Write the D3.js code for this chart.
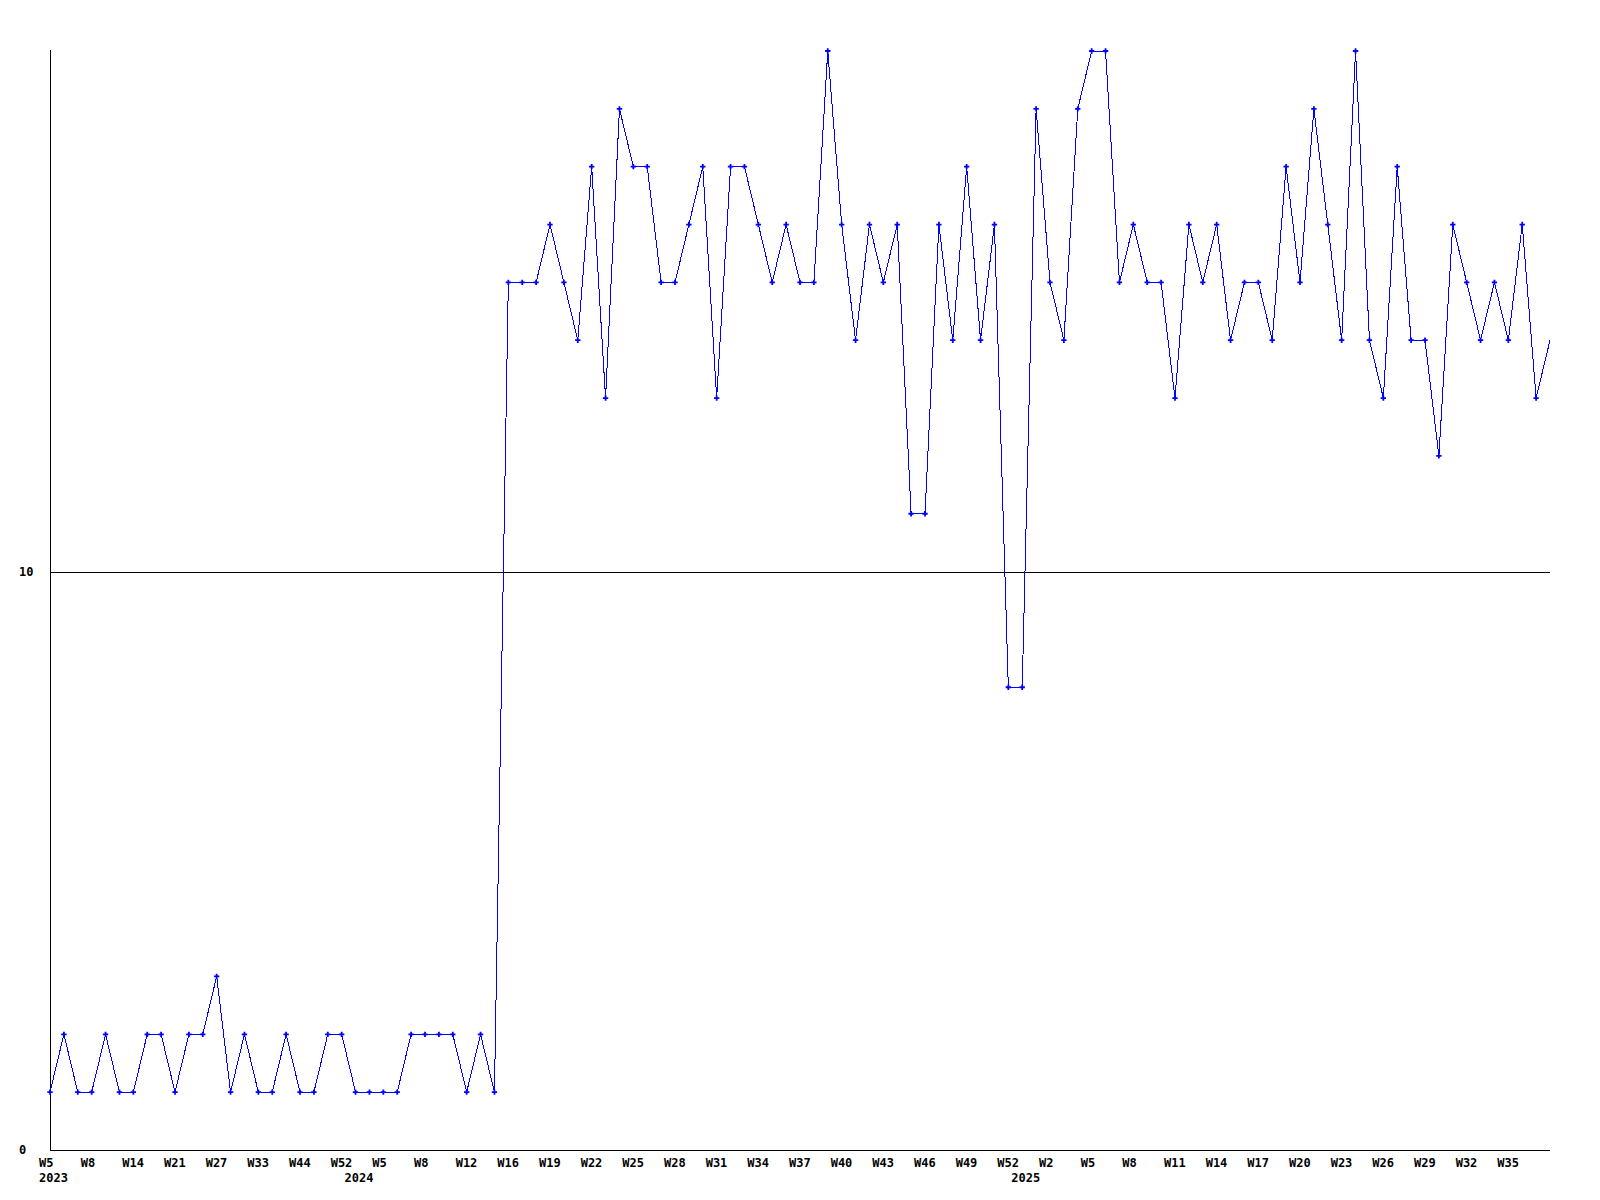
<!DOCTYPE html>
<html>
<head>
<meta charset="utf-8">
<style>
body { margin: 0; background: #fff; }
svg { font: bold 12px "DejaVu Sans Mono", "Liberation Mono", monospace; }
</style>
</head>
<body>
<svg width="1600" height="1200"></svg>
<script src="https://d3js.org/d3.v7.min.js"></script>
<script>

// weekly counts, one per point
var counts2023 = [1,2,1,1,2,1,1,2,2,1,2,2,3,1,2,1,1,2,1,1,2,2,1,1,1,1,2,2,2,2,1,2,1];
var countsA = [15,15,15,16,15,14,17,13,18,17,17,15,15,16,17,13,17,17,16];
var countsB = [15,16,15,15,19,16,14,16,15,16,11,11,16,14,17,14,16,8,8];
var countsC = [18,15,14,18,19,19,15,16,15,15,13,16,15,16,14,15,15,14,17,15];
var countsD = [18,16,14,19,14,13,17,14,14,12,16,15,14,15,14,16,13,14];
var values = counts2023.concat(countsA, countsB, countsC, countsD);

// a label on every third point
var weekLabels = ["W5","W8","W14","W21","W27","W33","W44","W52",
                  "W5","W8","W12","W16","W19","W22","W25","W28","W31","W34",
                  "W37","W40","W43","W46","W49","W52",
                  "W2","W5","W8","W11","W14","W17","W20","W23","W26","W29","W32","W35"];
var years = ["2023","2024","2025"];
var yearStart = [0, 22, 70];   // index of first point in each year
var yTicks = [0, 10];

var svg = d3.select("svg"),
    plotL = 50, plotR = 1550, plotT = 50, plotB = 1150;

var x = d3.scalePoint()
    .domain(d3.range(values.length))
    .range([plotL, plotR]);

var y = d3.scaleLinear()
    .domain([0, 19])
    .range([plotB, plotT + 1]);

// axes
svg.append("line")
    .attr("x1", plotL + 0.5).attr("x2", plotL + 0.5)
    .attr("y1", plotT).attr("y2", plotB)
    .attr("stroke", "#000");
svg.append("line")
    .attr("x1", plotL).attr("x2", plotR)
    .attr("y1", plotB + 0.5).attr("y2", plotB + 0.5)
    .attr("stroke", "#000");

// grid line at 10
svg.selectAll(".grid")
    .data(yTicks.filter(function(d) { return d > 0; }))
  .enter().append("line")
    .attr("class", "grid")
    .attr("x1", plotL).attr("x2", plotR)
    .attr("y1", function(d) { return Math.round(y(d)) + 0.5; })
    .attr("y2", function(d) { return Math.round(y(d)) + 0.5; })
    .attr("stroke", "#000");

svg.selectAll(".ylab")
    .data(yTicks)
  .enter().append("text")
    .attr("class", "ylab")
    .attr("x", 19)
    .attr("y", function(d) { return y(d); })
    .attr("dy", "0.35em")
    .text(function(d) { return d; });

svg.selectAll(".xlab")
    .data(weekLabels)
  .enter().append("text")
    .attr("class", "xlab")
    .attr("x", function(d, i) { return x(i * 3) - 11; })
    .attr("y", 1167)
    .text(function(d) { return d; });

svg.selectAll(".year")
    .data(years)
  .enter().append("text")
    .attr("class", "year")
    .attr("x", function(d, i) { return x(yearStart[i]) - 11; })
    .attr("y", 1182)
    .text(function(d) { return d; });

// the line
var line = d3.line()
    .x(function(d, i) { return x(i); })
    .y(function(d) { return y(d); });

svg.append("path")
    .datum(values)
    .attr("d", line)
    .attr("fill", "none")
    .attr("stroke", "#0000ff")
    .attr("stroke-width", 1)
    .attr("shape-rendering", "crispEdges");

// markers (last, partial week has none)
var marker = d3.symbol().type(d3.symbolCross).size(16);
svg.selectAll(".pt")
    .data(values.slice(0, values.length - 1))
  .enter().append("path")
    .attr("class", "pt")
    .attr("transform", function(d, i) { return "translate(" + x(i) + "," + y(d) + ")"; })
    .attr("d", marker)
    .attr("fill", "#0000ff");

</script>
</body>
</html>
